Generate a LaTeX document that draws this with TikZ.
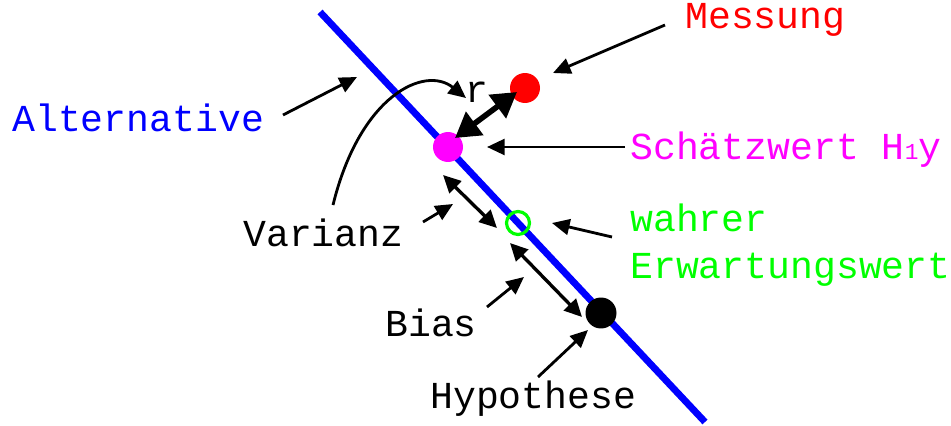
\documentclass[tikz,border=0pt]{standalone}
\usepackage{fontspec}
\setmainfont{Liberation Mono}
\usetikzlibrary{arrows.meta}
\definecolor{alt_blue}{RGB}{0,0,255}
\definecolor{est_magenta}{RGB}{255,0,255}
\definecolor{true_green}{RGB}{0,255,0}

\tikzset{
  lbl/.style={anchor=west, inner sep=0pt, font=\fontsize{21.7}{27}\selectfont, align=left},
  dot/.style={circle, inner sep=0pt, minimum size=#1},
  ptr/.style={-{Triangle[length=10pt,width=9pt]}, line width=1.6pt},
  span/.style={{Triangle[length=10pt,width=9.5pt]}-{Triangle[length=10pt,width=9.5pt]}, line width=1.9pt},
}

\begin{document}
\begin{tikzpicture}[x=0.02cm, y=-0.02cm]
        \useasboundingbox (0,0) rectangle (951,426);
        % Alternative line
        \draw[alt_blue, line width=3.9pt] (320,12) -- (705,422);
        % points
        \node[dot=0.6cm, fill=red] (mess) at (525,88) {};
        \node[dot=0.6cm, fill=est_magenta] (est) at (448,147) {};
        \node[dot=0.46cm, draw=true_green, line width=1.8pt] (ew) at (518,223) {};
        \node[dot=0.62cm, fill=black] (hyp) at (601,313) {};
        % labels
        \node[lbl, red] (lmess) at (685,20) {Messung};
        \node[lbl, alt_blue] (lalt) at (12,118) {Alternative};
        \node[lbl, est_magenta] (lest) at (630,150) {Schätzwert H{\fontsize{13}{13}\selectfont 1}y};
        \node[lbl, true_green] (lew) at (630,245) {wahrer\\Erwartungswert};
        \node[lbl] (lvar) at (243,233) {Varianz};
        \node[lbl] (lbias) at (385,323) {Bias};
        \node[lbl] (lhyp) at (430,399) {Hypothese};
        \node[lbl] (lr) at (465,92) {r};
        % free ends
        \coordinate (mess_in) at (553,73);
        \coordinate (alt_in) at (357,77);
        \coordinate (est_in) at (487,147);
        \coordinate (var_in) at (453,204);
        \coordinate (ew_in) at (552,223);
        \coordinate (bias_in) at (524,277);
        \coordinate (hyp_in) at (588,330);
        \coordinate (r_from) at (333,205);
        \coordinate (r_in) at (466,98);
        \coordinate (var_a) at (443,175);
        \coordinate (var_b) at (497,228);
        \coordinate (bias_a) at (510,243);
        \coordinate (bias_b) at (582,317);
        \coordinate (r_a) at (455,138);
        \coordinate (r_b) at (517,92);
        % pointers
        \draw[ptr] (665,25) -- (mess_in);
        \draw[ptr] (283,115) -- (alt_in);
        \draw[ptr] (625,147) -- (est_in);
        \draw[ptr] (423,222) -- (var_in);
        \draw[ptr] (612,237) -- (ew_in);
        \draw[ptr] (487,307) -- (bias_in);
        \draw[ptr] (538,377) -- (hyp_in);
        \draw[ptr] (r_from) .. controls (360,95) and (425,65) .. (r_in);
        % spans
        \draw[{Triangle[length=14pt,width=16pt]}-{Triangle[length=14pt,width=16pt]}, line width=3.2pt] (r_a) -- (r_b);
        \draw[span] (var_a) -- (var_b);
        \draw[span] (bias_a) -- (bias_b);
      \end{tikzpicture}
\end{document}
